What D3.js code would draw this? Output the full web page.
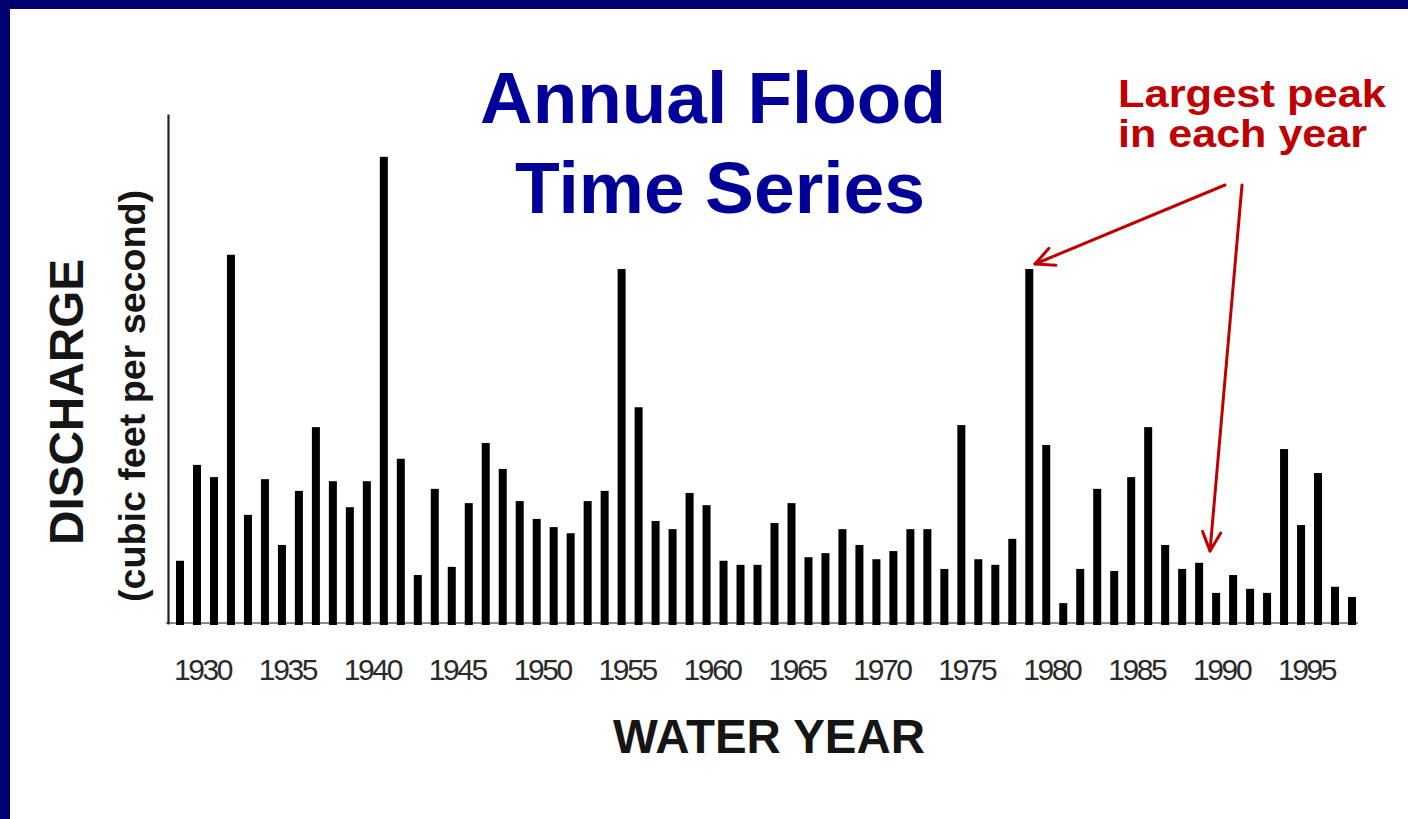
<!DOCTYPE html>
<html>
<head>
<meta charset="utf-8">
<script src="https://cdn.jsdelivr.net/npm/d3@7"></script>
<style>
  html, body { margin: 0; padding: 0; background: #fff; }
  svg { display: block; }
</style>
</head>
<body>
<svg id="chart" width="1408" height="819"></svg>
<script>
// ---- data (annual peak discharge, relative units) ----
const years = d3.range(1929, 1999);
const peaks = [
  12.4, 31.2, 28.8, 72.4, 21.4, 28.4, 15.5, 26.1, 38.6, 28.0,
  22.9, 28.0, 91.6, 32.4, 9.6, 26.5, 11.2, 23.7, 35.5, 30.4,
  24.1, 20.6, 19.0, 17.8, 24.1, 26.1, 69.6, 42.5, 20.2, 18.6,
  25.7, 23.3, 12.4, 11.6, 11.6, 19.8, 23.7, 13.1, 13.9, 18.6,
  15.5, 12.7, 14.3, 18.6, 18.6, 10.8, 39.0, 12.7, 11.6, 16.7,
  69.6, 35.1, 4.1, 10.8, 26.5, 10.4, 28.8, 38.6, 15.5, 10.8,
  12.0, 6.1, 9.6, 6.9, 6.1, 34.3, 19.4, 29.6, 7.3, 5.3
];
const tickYears = [1930, 1935, 1940, 1945, 1950, 1955, 1960, 1965, 1970, 1975, 1980, 1985, 1990, 1995];
const titleLines = ["Annual Flood", "Time Series"];
const noteLines = ["Largest peak", "in each year"];
const yLabel = "DISCHARGE";
const yUnits = "(cubic feet per second)";
const xLabel = "WATER YEAR";

// ---- layout ----
const svg = d3.select("#chart");
const W = 1408, H = 819;
const NAVY = "#000070", TITLE = "#000099", RED = "#C00000";

svg.append("rect").attr("width", W).attr("height", H).attr("fill", "#fff");
svg.append("rect").attr("x", 0).attr("y", 0).attr("width", W).attr("height", 9).attr("fill", NAVY);
svg.append("rect").attr("x", 0).attr("y", 0).attr("width", 10).attr("height", H).attr("fill", NAVY);

const x = d3.scaleLinear().domain([1929, 1998]).range([180, 1352]);
const y = d3.scaleLinear().domain([0, 100]).range([624, 114]);
const barW = 8;

// baseline
svg.append("line")
  .attr("x1", 166).attr("x2", 1358)
  .attr("y1", 623).attr("y2", 623)
  .attr("stroke", "#666").attr("stroke-width", 1.5);

// bars
svg.append("g").selectAll("rect")
  .data(years.map((yr, i) => ({ yr, v: peaks[i] })))
  .join("rect")
  .attr("x", d => x(d.yr) - barW / 2)
  .attr("y", d => y(d.v))
  .attr("width", barW)
  .attr("height", d => y(0) - y(d.v) + 1)
  .attr("fill", "#000");

// y axis line
svg.append("g")
  .attr("transform", "translate(168,0)")
  .call(d3.axisLeft(y).tickValues([]).tickSizeOuter(0))
  .call(g => g.select(".domain").attr("stroke", "#222").attr("stroke-width", 2.2));

// x tick labels
const xAxis = svg.append("g")
  .attr("transform", "translate(0,624)")
  .call(d3.axisBottom(x).tickValues(tickYears).tickFormat(d3.format("d")).tickSize(0).tickPadding(0));
xAxis.select(".domain").remove();
xAxis.selectAll("text")
  .attr("dy", 0).attr("y", 56).attr("dx", 5)
  .attr("font-family", "Liberation Sans, Arial, sans-serif")
  .attr("font-size", 30)
  .attr("letter-spacing", "-2.4px")
  .attr("fill", "#2a2a2a");

// title
const titleFont = "Liberation Sans, Arial, sans-serif";
svg.append("text").attr("x", 713).attr("y", 123)
  .attr("text-anchor", "middle").attr("font-family", titleFont).attr("font-weight", "bold")
  .attr("font-size", 73).attr("fill", TITLE)
  .attr("textLength", 466).attr("lengthAdjust", "spacingAndGlyphs")
  .text(titleLines[0]);
svg.append("text").attr("x", 720).attr("y", 213)
  .attr("text-anchor", "middle").attr("font-family", titleFont).attr("font-weight", "bold")
  .attr("font-size", 73).attr("fill", TITLE)
  .attr("textLength", 410).attr("lengthAdjust", "spacingAndGlyphs")
  .text(titleLines[1]);

// annotation
svg.append("text").attr("x", 1118).attr("y", 107)
  .attr("font-family", titleFont).attr("font-weight", "bold")
  .attr("font-size", 39).attr("fill", RED)
  .attr("textLength", 268).attr("lengthAdjust", "spacingAndGlyphs")
  .text(noteLines[0]);
svg.append("text").attr("x", 1118).attr("y", 147)
  .attr("font-family", titleFont).attr("font-weight", "bold")
  .attr("font-size", 39).attr("fill", RED)
  .attr("textLength", 249).attr("lengthAdjust", "spacingAndGlyphs")
  .text(noteLines[1]);

// arrows
function arrow(x1, y1, x2, y2) {
  const g = svg.append("g").attr("stroke", RED).attr("stroke-width", 3)
    .attr("fill", "none").attr("stroke-linecap", "round").attr("stroke-linejoin", "round");
  g.append("line").attr("x1", x1).attr("y1", y1).attr("x2", x2).attr("y2", y2);
  const a = Math.atan2(y2 - y1, x2 - x1);
  const L = 21, s = 0.45;
  const p1 = [x2 - L * Math.cos(a - s), y2 - L * Math.sin(a - s)];
  const p2 = [x2 - L * Math.cos(a + s), y2 - L * Math.sin(a + s)];
  g.append("path").attr("d", `M${p1[0]},${p1[1]}L${x2},${y2}L${p2[0]},${p2[1]}`);
}
arrow(1225, 185, 1035, 264);
arrow(1242, 185, 1210, 551);

// axis titles
svg.append("text")
  .attr("transform", "translate(83,402) rotate(-90)")
  .attr("text-anchor", "middle").attr("font-family", titleFont).attr("font-weight", "bold")
  .attr("font-size", 48).attr("fill", "#151515")
  .attr("textLength", 286).attr("lengthAdjust", "spacingAndGlyphs")
  .text(yLabel);
svg.append("text")
  .attr("transform", "translate(145,396) rotate(-90)")
  .attr("text-anchor", "middle").attr("font-family", titleFont).attr("font-weight", "bold")
  .attr("font-size", 36).attr("fill", "#151515")
  .attr("textLength", 412).attr("lengthAdjust", "spacingAndGlyphs")
  .text(yUnits);
svg.append("text").attr("x", 769).attr("y", 753)
  .attr("text-anchor", "middle").attr("font-family", titleFont).attr("font-weight", "bold")
  .attr("font-size", 48).attr("fill", "#151515")
  .attr("textLength", 312).attr("lengthAdjust", "spacingAndGlyphs")
  .text(xLabel);
</script>
</body>
</html>
